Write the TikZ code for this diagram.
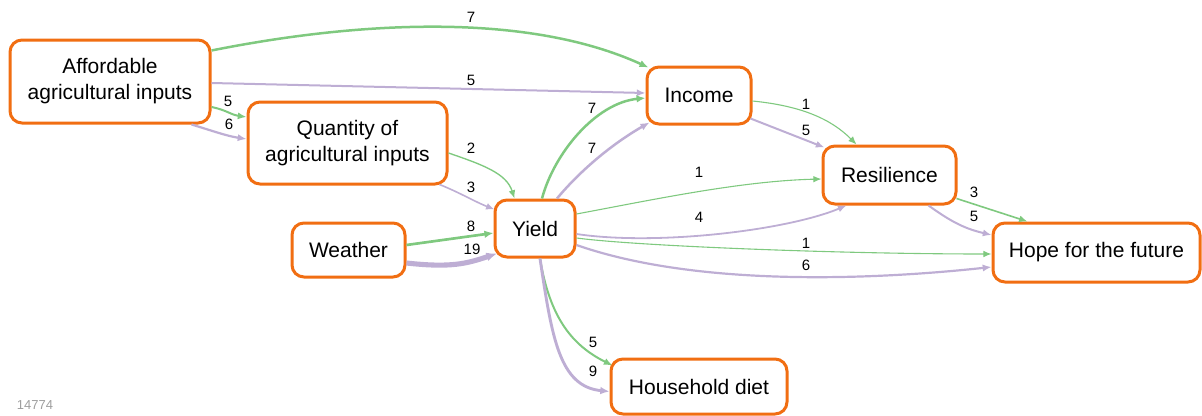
\documentclass[tikz,border=0pt]{standalone}
\usepackage{fontspec}
\setmainfont{Liberation Sans}
\usetikzlibrary{arrows.meta,calc}
\definecolor{boxor}{RGB}{241,110,18}
\definecolor{eg}{RGB}{127,201,127}
\definecolor{ep}{RGB}{190,174,212}
\begin{document}
\begin{tikzpicture}[x=1pt,y=-1pt,
  box/.style={draw=boxor, line width=3pt, rounded corners=12pt, fill=white, align=center,
    font=\fontsize{21}{26}\selectfont, inner sep=0pt},
  lbl/.style={font=\fontsize{15}{17}\selectfont, inner sep=0pt},
  tipped/.style={-{Latex[length=7.5pt 0.6, width=6pt 0.6]}},
  ge/.style={tipped, draw=eg, line width=#1},
  pe/.style={tipped, draw=ep, line width=#1}]
\useasboundingbox (0,0) rectangle (1202,415);
% nodes
\node[box, minimum width=200pt, minimum height=83pt] (aff) at (110,81.5) {Affordable\\agricultural inputs};
\node[box, minimum width=199pt, minimum height=82pt] (qty) at (347.5,143) {Quantity of\\agricultural inputs};
\node[box, minimum width=113pt, minimum height=54pt] (wea) at (348.5,250) {Weather};
\node[box, minimum width=80pt, minimum height=57pt] (yie) at (535,228.5) {Yield};
\node[box, minimum width=104pt, minimum height=57pt] (inc) at (699,95.5) {Income};
\node[box, minimum width=133pt, minimum height=58pt] (res) at (889.5,175) {Resilience};
\node[box, minimum width=207pt, minimum height=59pt] (hop) at (1096.5,252.5) {Hope for the future};
\node[box, minimum width=176pt, minimum height=55pt] (hou) at (699,386.5) {Household diet};
\node[font=\fontsize{13}{15}\selectfont, text=black!38, inner sep=0pt] (id) at (35,405) {14774};
% edges
\draw[ge=2.5pt] ($(aff.east)+(0,-31)$) .. controls +(140,-28) and +(-125,-57) .. ($(inc.north west)+(3,2)$);
\draw[pe=2pt] ($(aff.east)+(0,1.5)$) -- ($(inc.west)+(0,-2.5)$);
\draw[ge=2pt] ($(aff.east)+(0,25.5)$) .. controls +(15,3) and +(-15,-2) .. ($(qty.west)+(0,-26)$);
\draw[pe=2.2pt] ($(aff.south east)+(-20,0)$) .. controls +(20,6) and +(-20,-3) .. ($(qty.west)+(0,-4)$);
\draw[ge=1.35pt] ($(qty.east)+(0,10)$) .. controls +(35,12) and +(-8,-25) .. ($(yie.north west)+(21,0)$);
\draw[pe=1.6pt] ($(qty.south east)+(-9,-1)$) .. controls +(20,8) and +(-20,-8) .. ($(yie.west)+(1,-19)$);
\draw[ge=2.66pt] ($(wea.east)+(0,-5)$) -- ($(yie.west)+(0,4.5)$);
\draw[pe=5.1pt] ($(wea.east)+(0,13)$) .. controls +(45,5) and +(-30,10) .. ($(yie.west)+(3.5,25)$);
\draw[ge=2.5pt] ($(yie.north)+(7,0)$) .. controls +(12,-45) and +(-50,5) .. ($(inc.west)+(0,2.5)$);
\draw[pe=2.5pt] ($(yie.north)+(22,0)$) .. controls +(25,-30) and +(-35,20) .. ($(inc.south west)+(4,-3)$);
\draw[ge=1.1pt] ($(yie.east)+(0,-14.5)$) .. controls +(80,-15) and +(-80,2) .. ($(res.west)+(0,4)$);
\draw[pe=1.8pt] ($(yie.east)+(0,5.5)$) .. controls +(80,12) and +(-60,25) .. ($(res.south west)+(25,0)$);
\draw[ge=1.1pt] ($(yie.east)+(0,9.5)$) .. controls +(60,8) and +(-150,0) .. ($(hop.west)+(0,1.5)$);
\draw[pe=2.2pt] ($(yie.east)+(0,16.5)$) .. controls +(120,42) and +(-120,13) .. ($(hop.west)+(0,14.5)$);
\draw[ge=2pt] ($(yie.south)+(5,0)$) .. controls +(10,60) and +(-40,-20) .. ($(hou.north west)+(3,8)$);
\draw[pe=2.9pt] ($(yie.south)+(5,0)$) .. controls +(12,80) and +(-50,-5) .. ($(hou.west)+(0,5)$);
\draw[ge=1.1pt] ($(inc.east)+(0,5.5)$) .. controls +(50,5) and +(-25,-25) .. ($(res.north west)+(35,0)$);
\draw[pe=2pt] ($(inc.south east)+(-2,-7)$) -- ($(res.north west)+(3,3)$);
\draw[ge=1.6pt] ($(res.south east)+(-1,-7)$) -- ($(hop.north west)+(36,0)$);
\draw[pe=2pt] ($(res.south east)+(-29,0)$) .. controls +(25,18) and +(-25,-6) .. ($(hop.west)+(0,-17.5)$);
% labels
\node[lbl] (l1) at (471,17) {7};
\node[lbl] (l2) at (471,80) {5};
\node[lbl] (l3) at (228,101) {5};
\node[lbl] (l4) at (229,124) {6};
\node[lbl] (l5) at (471,148) {2};
\node[lbl] (l6) at (471,187) {3};
\node[lbl] (l7) at (471,226) {8};
\node[lbl] (l8) at (472,249) {19};
\node[lbl] (l9) at (592,108) {7};
\node[lbl] (l10) at (592,148) {7};
\node[lbl] (l11) at (699,172) {1};
\node[lbl] (l12) at (699,217) {4};
\node[lbl] (l13) at (806,243) {1};
\node[lbl] (l14) at (806,265) {6};
\node[lbl] (l15) at (593,342) {5};
\node[lbl] (l16) at (593,371) {9};
\node[lbl] (l17) at (806,104) {1};
\node[lbl] (l18) at (806,130) {5};
\node[lbl] (l19) at (974,192) {3};
\node[lbl] (l20) at (974,216) {5};
\end{tikzpicture}
\end{document}
